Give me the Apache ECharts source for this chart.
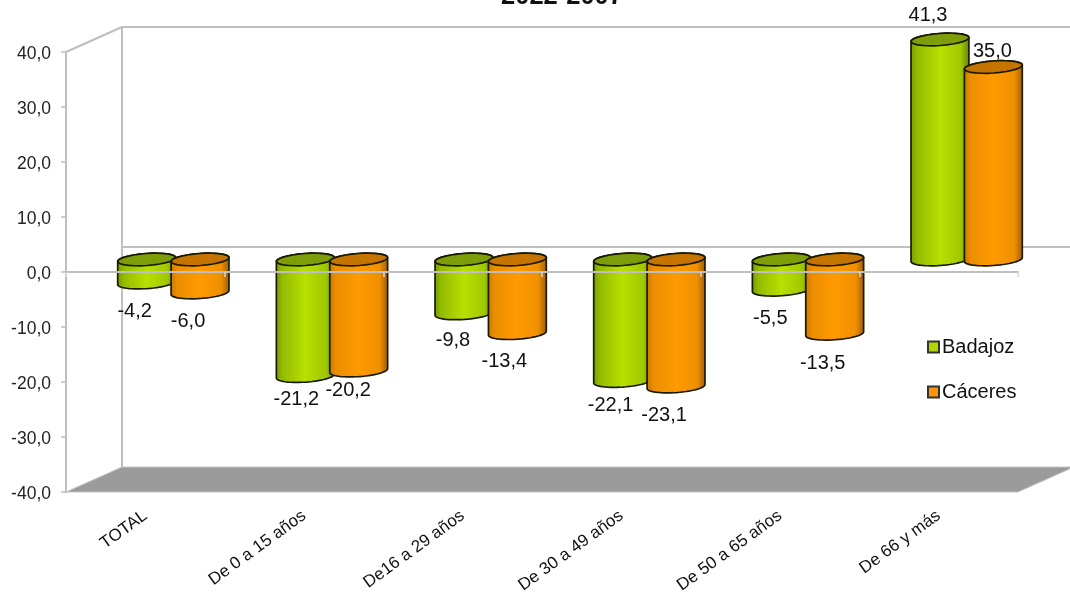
<!DOCTYPE html>
<html><head><meta charset="utf-8">
<script src="https://cdn.jsdelivr.net/npm/echarts@6/dist/echarts.min.js"></script>
<style>html,body{margin:0;padding:0;background:#fff}#c{width:1070px;height:597px;overflow:hidden}</style>
</head><body><div id="c"></div>
<script>
const titleText = '2022-2007';
const categories = ['TOTAL','De 0 a 15 años','De16 a 29 años','De 30 a 49 años','De 50 a 65 años','De 66 y más'];
const badajoz = [-4.2,-21.2,-9.8,-22.1,-5.5,41.3];
const caceres = [-6.0,-20.2,-13.4,-23.1,-13.5,35.0];
const yTicks = {min:-40,max:40,interval:10};
const badajozLabelNudge = [[-12,16],[-9,11],[-11,15],[-12,12],[-11,16],[-12,-29]];
const caceresLabelNudge = [[-12,16],[-10.5,7],[-13,16],[-12,16],[-12,17],[-1,-28.5]];

const FONT = '"Liberation Sans", Arial, sans-serif';
const DEPTH_X = 56, DEPTH_Y = 25;   // full depth of the 3D box
const HALF_W = 29, RY = 6, TILT = -4 * Math.PI / 180, SIDE = 26.7;
const fmt = v => v.toFixed(1).replace('.', ',');

function ellipsePts(cx, cy, from, to) {
  const pts = [], n = 28;
  for (let k = 0; k <= n; k++) {
    const t = from + (to - from) * k / n;
    const ex = HALF_W * Math.cos(t), ey = RY * Math.sin(t);
    pts.push([cx + ex * Math.cos(TILT) - ey * Math.sin(TILT), cy + ex * Math.sin(TILT) + ey * Math.cos(TILT)]);
  }
  return pts;
}
function cylinder(side, nudges, stops, topColor) {
  return function (params, api) {
    const i = api.value(0), v = api.value(1);
    const clamped = Math.max(yTicks.min, Math.min(yTicks.max, v));
    const base = api.coord([i, 0]), end = api.coord([i, clamped]), lab = api.coord([i, v]);
    const cx = base[0] + DEPTH_X / 2 + side * SIDE;
    const y0 = base[1] - DEPTH_Y / 2, y1 = end[1] - DEPTH_Y / 2;
    const topY = Math.min(y0, y1), botY = Math.max(y0, y1);
    const body = ellipsePts(cx, botY, 0, Math.PI).concat(ellipsePts(cx, topY, Math.PI, 2 * Math.PI));
    const line = '#1a1a00';
    return {type:'group', children:[
      {type:'polygon', shape:{points:body}, style:{
        fill:{type:'linear',x:0,y:0,x2:1,y2:0,colorStops:stops}, stroke:line, lineWidth:1.7}},
      {type:'polygon', shape:{points:ellipsePts(cx, topY, 0, 2 * Math.PI)}, style:{fill:topColor, stroke:line, lineWidth:1.7}},
      {type:'text', z2:50, style:{text:fmt(v), x:cx + nudges[i][0], y:lab[1] + nudges[i][1],
        fill:'#111', font:'20px ' + FONT, align:'center', verticalAlign:'middle'}}
    ]};
  };
}
const greenStops = [{offset:0,color:'#739a00'},{offset:0.12,color:'#94bc00'},{offset:0.5,color:'#b9e000'},{offset:0.85,color:'#a0c800'},{offset:1,color:'#5f8000'}];
const orangeStops = [{offset:0,color:'#c87800'},{offset:0.12,color:'#ec8e00'},{offset:0.5,color:'#ff9a00'},{offset:0.85,color:'#f09000'},{offset:1,color:'#9a5c00'}];

function box(params, api) {
  const cs = params.coordSys;
  const L = cs.x, R = cs.x + cs.width, T = api.coord([0, yTicks.max])[1], B = api.coord([0, yTicks.min])[1], Z = api.coord([0, 0])[1];
  const wall = {stroke:'#BFBFBF', lineWidth:2};
  const seg = (x1,y1,x2,y2) => ({type:'line', shape:{x1,y1,x2,y2}, style:wall});
  return {type:'group', children:[
    seg(L, T, L + DEPTH_X, T - DEPTH_Y),
    seg(L + DEPTH_X, T - DEPTH_Y, L + DEPTH_X, B - DEPTH_Y),
    seg(L + DEPTH_X, T - DEPTH_Y, R + DEPTH_X, T - DEPTH_Y),
    seg(L + DEPTH_X, Z - DEPTH_Y, R + DEPTH_X, Z - DEPTH_Y),
    {type:'polygon', shape:{points:[[L,B],[R,B],[R + DEPTH_X,B - DEPTH_Y],[L + DEPTH_X,B - DEPTH_Y]]},
      style:{fill:'#9B9B9B', stroke:'#C4C4C4', lineWidth:1}}
  ]};
}

const chart = echarts.init(document.getElementById('c'), null, {renderer:'canvas'});
chart.setOption({
  animation:false,
  backgroundColor:'#fff',
  title:{text:titleText, left:557, textAlign:'center', top:-21, textStyle:{fontFamily:FONT, fontWeight:'bold', fontSize:25.5, color:'#111'}},
  legend:{data:['Badajoz','Cáceres'], orient:'vertical', left:922, top:332, itemWidth:11, itemHeight:11, itemGap:25,
    textStyle:{fontFamily:FONT, fontSize:20, color:'#111', padding:[0,0,0,-2]}, selectedMode:false,
    icon:'rect'},
  grid:{left:66, top:52, width:952, height:440, containLabel:false},
  xAxis:[
    {type:'category', data:categories, position:'bottom', axisLine:{show:false, onZero:false}, axisTick:{show:false},
      axisLabel:{rotate:36, fontFamily:FONT, fontSize:17, color:'#111', margin:22, interval:0}},
    {type:'category', data:categories, position:'top', z:10,
      axisLine:{show:true, onZero:true, lineStyle:{color:'#BFBFBF', width:2}},
      axisTick:{show:true, inside:true, length:5, lineStyle:{color:'#D8D8D8', width:1.5}}, axisLabel:{show:false}}
  ],
  yAxis:{type:'value', min:yTicks.min, max:yTicks.max, interval:yTicks.interval,
    axisLine:{show:true, onZero:false, lineStyle:{color:'#BFBFBF', width:2}},
    axisTick:{show:true, length:5, lineStyle:{color:'#BFBFBF', width:1.5}},
    splitLine:{show:false},
    axisLabel:{formatter:fmt, fontFamily:FONT, fontSize:17.5, color:'#222', margin:15, verticalAlign:'top', lineHeight:4}},
  series:[
    {name:'box', type:'custom', silent:true, z:1, data:[[0,0]], renderItem:box},
    {name:'Badajoz', type:'custom', z:2, itemStyle:{color:'#B2D600', borderColor:'#333', borderWidth:1},
      data:categories.map((c,i)=>[i,badajoz[i]]),
      encode:{x:0,y:1}, renderItem:cylinder(-1, badajozLabelNudge, greenStops, '#7d9e08')},
    {name:'Cáceres', type:'custom', z:3, itemStyle:{color:'#FF9400', borderColor:'#333', borderWidth:1},
      data:categories.map((c,i)=>[i,caceres[i]]),
      encode:{x:0,y:1}, renderItem:cylinder(1, caceresLabelNudge, orangeStops, '#c67400')}
  ]
});
</script></body></html>
